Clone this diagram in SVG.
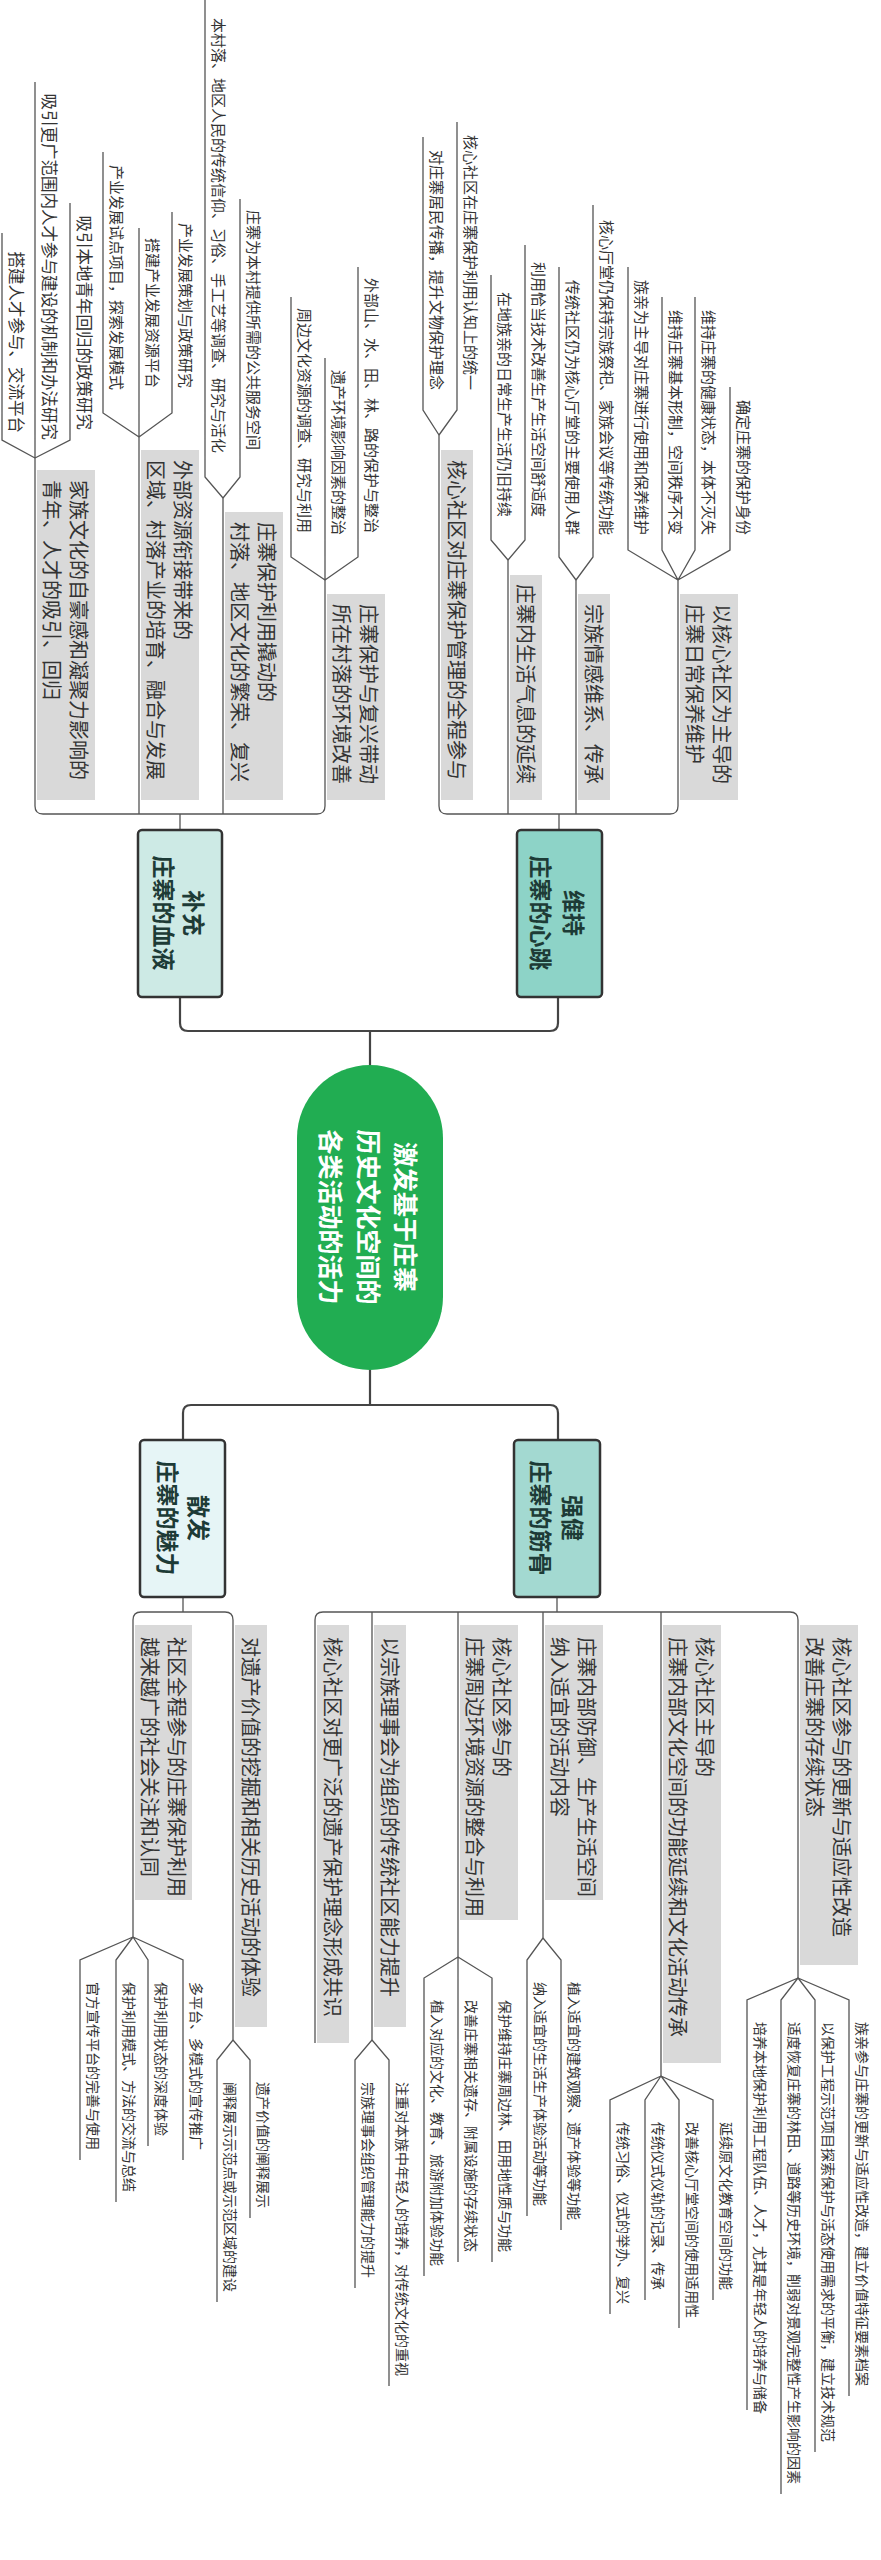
<svg xmlns="http://www.w3.org/2000/svg" width="881" height="2560" viewBox="0 0 881 2560">
<style>
text{font-family:"Noto Sans CJK SC","Noto Sans",sans-serif;fill:#333}
.lf{font-size:15px}
.lfa{font-size:16.5px}
.lf2{font-size:14px}
.l2{font-size:20px}
.box{fill:#d9d9d9}
.ln{fill:none;stroke:#555;stroke-width:1.3}
.main{fill:none;stroke:#444;stroke-width:2.2}
.nd{stroke:#333;stroke-width:2.5}
.nt{font-size:23px;font-weight:bold;fill:#1d3b36}
.rt{font-size:25px;font-weight:bold;fill:#fff}
</style>
<rect width="881" height="2560" fill="#fff"/>
<g id="connectors">
<path class="main" d="M180 997 V1023 Q180 1031 188 1031 H550 Q558 1031 558 1023 V997 M370 1031 V1065 M370 1370 V1405 M183 1440 V1413 Q183 1405 191 1405 H550 Q558 1405 558 1413 V1440"/>
<path class="ln" d="M180 814 V830 M35 458 V806 Q35 814 43 814 H317 Q325 814 325 806 V580 M139 437 V814 M223 498 V814
M559 814 V830 M439 435 V806 Q439 814 447 814 H670 Q678 814 678 806 V580 M508 560 V814 M576 580 V814
M183 1597 V1612 M133 1937 V1620 Q133 1612 141 1612 H225 Q233 1612 233 1620 V2040
M557 1597 V1612 M315 2043 V1620 Q315 1612 323 1612 H790 Q798 1612 798 1620 V1978 M372 1612 V2040 M458 1612 V1957 M543 1612 V1938 M661 1612 V2076"/>
<path class="ln" d="M2 233 V440 L35 458 M35 82 V458 M70 203 V440 L35 458
M103 152 V413 L139 437 M139 228 V437 M172 212 V413 L139 437
M205 0 V477 L223 498 M240 199 V477 L223 498
M291 297 V557 L325 580 M325 358 V580 M358 267 V557 L325 580
M423 137 V410 L439 435 M457 122 V410 L439 435
M491 275 V540 L508 560 M525 245 V540 L508 560
M559 267 V557 L576 580 M593 205 V557 L576 580
M628 267 V550 L678 580 M662 297 V550 L678 580 M695 297 V550 L678 580 M730 387 V550 L678 580"/>
<path class="ln" d="M133 1937 L80 1960 V2160 M133 1937 L116 1960 V2202 M133 1937 L148 1960 V2146 M133 1937 L183 1960 V2160
M233 2040 L217 2060 V2302 M233 2040 L250 2060 V2218
M372 2040 L355 2060 V2288 M372 2040 L389 2060 V2386
M458 1957 L424 1978 V2276 M458 1957 V2262 M458 1957 L492 1978 V2262
M543 1938 L527 1960 V2216 M543 1938 L561 1960 V2230
M661 2076 L610 2100 V2314 M661 2076 L645 2100 V2300 M661 2076 L679 2100 V2328 M661 2076 L713 2100 V2300
M798 1978 L747 2000 V2410 M798 1978 L781 2000 V2494 M798 1978 L815 2000 V2452 M798 1978 L849 2000 V2396"/>
</g>
<g id="root">
<rect x="297" y="1065" width="146" height="305" rx="73" fill="#21ad52"/>
<text class="rt" text-anchor="middle" transform="translate(396,1217) rotate(90)">激发基于庄寨</text>
<text class="rt" text-anchor="middle" transform="translate(359,1217) rotate(90)">历史文化空间的</text>
<text class="rt" text-anchor="middle" transform="translate(321,1217) rotate(90)">各类活动的活力</text>
</g>
<g id="n-buchong">
<rect class="nd" x="138" y="830" width="84" height="167" rx="4" fill="#cdeae5"/>
<text class="nt" text-anchor="middle" transform="translate(185,913) rotate(90)">补充</text>
<text class="nt" text-anchor="middle" transform="translate(155,913) rotate(90)">庄寨的血液</text>
</g>
<g id="n-weichi">
<rect class="nd" x="517" y="830" width="85" height="167" rx="4" fill="#8dd3c7"/>
<text class="nt" text-anchor="middle" transform="translate(565,913) rotate(90)">维持</text>
<text class="nt" text-anchor="middle" transform="translate(532,913) rotate(90)">庄寨的心跳</text>
</g>
<g id="n-sanfa">
<rect class="nd" x="140" y="1440" width="85" height="157" rx="4" fill="#e6f5f6"/>
<text class="nt" text-anchor="middle" transform="translate(190,1518) rotate(90)">散发</text>
<text class="nt" text-anchor="middle" transform="translate(159,1518) rotate(90)">庄寨的魅力</text>
</g>
<g id="n-qiangjian">
<rect class="nd" x="514" y="1440" width="86" height="157" rx="4" fill="#a3d9d1"/>
<text class="nt" text-anchor="middle" transform="translate(564,1518) rotate(90)">强健</text>
<text class="nt" text-anchor="middle" transform="translate(532,1518) rotate(90)">庄寨的筋骨</text>
</g>
<g id="level2-upper">
<rect class="box" x="37" y="470" width="58" height="330"/>
<text class="l2" transform="translate(71,480) rotate(90)">家族文化的自豪感和凝聚力影响的</text>
<text class="l2" transform="translate(44,480) rotate(90)">青年、人才的吸引、回归</text>
<rect class="box" x="141" y="450" width="58" height="350"/>
<text class="l2" transform="translate(175,460) rotate(90)">外部资源衔接带来的</text>
<text class="l2" transform="translate(148,460) rotate(90)">区域、村落产业的培育、融合与发展</text>
<rect class="box" x="225" y="512" width="58" height="288"/>
<text class="l2" transform="translate(259,522) rotate(90)">庄寨保护利用撬动的</text>
<text class="l2" transform="translate(232,522) rotate(90)">村落、地区文化的繁荣、复兴</text>
<rect class="box" x="327" y="594" width="58" height="206"/>
<text class="l2" transform="translate(361,604) rotate(90)">庄寨保护与复兴带动</text>
<text class="l2" transform="translate(334,604) rotate(90)">所在村落的环境改善</text>
<rect class="box" x="441" y="450" width="32" height="350"/>
<text class="l2" transform="translate(449,460) rotate(90)">核心社区对庄寨保护管理的全程参与</text>
<rect class="box" x="510" y="575" width="32" height="225"/>
<text class="l2" transform="translate(518,584) rotate(90)">庄寨内生活气息的延续</text>
<rect class="box" x="578" y="594" width="32" height="206"/>
<text class="l2" transform="translate(586,604) rotate(90)">宗族情感维系、传承</text>
<rect class="box" x="680" y="594" width="58" height="206"/>
<text class="l2" transform="translate(714,604) rotate(90)">以核心社区为主导的</text>
<text class="l2" transform="translate(687,604) rotate(90)">庄寨日常保养维护</text>
</g>
<g id="level2-lower">
<rect class="box" x="135" y="1625" width="57" height="275"/>
<text class="l2" transform="translate(169,1637) rotate(90)">社区全程参与的庄寨保护利用</text>
<text class="l2" transform="translate(142,1637) rotate(90)">越来越广的社会关注和认同</text>
<rect class="box" x="235" y="1625" width="32" height="402"/>
<text class="l2" transform="translate(243,1637) rotate(90)">对遗产价值的挖掘和相关历史活动的体验</text>
<rect class="box" x="317" y="1625" width="32" height="418"/>
<text class="l2" transform="translate(325,1637) rotate(90)">核心社区对更广泛的遗产保护理念形成共识</text>
<rect class="box" x="374" y="1625" width="32" height="402"/>
<text class="l2" transform="translate(382,1637) rotate(90)">以宗族理事会为组织的传统社区能力提升</text>
<rect class="box" x="460" y="1625" width="58" height="295"/>
<text class="l2" transform="translate(494,1637) rotate(90)">核心社区参与的</text>
<text class="l2" transform="translate(467,1637) rotate(90)">庄寨周边环境资源的整合与利用</text>
<rect class="box" x="545" y="1625" width="58" height="275"/>
<text class="l2" transform="translate(579,1637) rotate(90)">庄寨内部防御、生产生活空间</text>
<text class="l2" transform="translate(552,1637) rotate(90)">纳入适宜的活动内容</text>
<rect class="box" x="663" y="1625" width="58" height="438"/>
<text class="l2" transform="translate(697,1637) rotate(90)">核心社区主导的</text>
<text class="l2" transform="translate(670,1637) rotate(90)">庄寨内部文化空间的功能延续和文化活动传承</text>
<rect class="box" x="800" y="1625" width="58" height="340"/>
<text class="l2" transform="translate(834,1637) rotate(90)">核心社区参与的更新与适应性改造</text>
<text class="l2" transform="translate(807,1637) rotate(90)">改善庄寨的存续状态</text>
</g>
<g id="leaves-upper" text-anchor="end">
<text class="lfa" transform="translate(10,433) rotate(90)">搭建人才参与、交流平台</text>
<text class="lfa" transform="translate(43,440) rotate(90)">吸引更广范围内人才参与建设的机制和办法研究</text>
<text class="lfa" transform="translate(78,430) rotate(90)">吸引本地青年回归的政策研究</text>
<text class="lf" transform="translate(111,390) rotate(90)">产业发展试点项目，探索发展模式</text>
<text class="lf" transform="translate(147,388) rotate(90)">搭建产业发展资源平台</text>
<text class="lf" transform="translate(180,388) rotate(90)">产业发展策划与政策研究</text>
<text class="lf" transform="translate(213,453) rotate(90)">本村落、地区人民的传统信仰、习俗、手工艺等调查、研究与活化</text>
<text class="lf" transform="translate(248,450) rotate(90)">庄寨为本村提供所需的公共服务空间</text>
<text class="lf" transform="translate(299,533) rotate(90)">周边文化资源的调查、研究与利用</text>
<text class="lf" transform="translate(333,535) rotate(90)">遗产环境影响因素的整治</text>
<text class="lf" transform="translate(366,533) rotate(90)">外部山、水、田、林、路的保护与整治</text>
<text class="lf" transform="translate(431,390) rotate(90)">对庄寨居民传播，提升文物保护理念</text>
<text class="lf" transform="translate(465,390) rotate(90)">核心社区在庄寨保护利用认知上的统一</text>
<text class="lf" transform="translate(499,517) rotate(90)">在地族亲的日常生产生活仍旧持续</text>
<text class="lf" transform="translate(533,517) rotate(90)">利用恰当技术改善生产生活空间舒适度</text>
<text class="lf" transform="translate(567,535) rotate(90)">传统社区仍为核心厅堂的主要使用人群</text>
<text class="lf" transform="translate(601,535) rotate(90)">核心厅堂仍保持宗族祭祀、家族会议等传统功能</text>
<text class="lf" transform="translate(636,535) rotate(90)">族亲为主导对庄寨进行使用和保养维护</text>
<text class="lf" transform="translate(670,535) rotate(90)">维持庄寨基本形制，空间秩序不变</text>
<text class="lf" transform="translate(703,535) rotate(90)">维持庄寨的健康状态，本体不灭失</text>
<text class="lf" transform="translate(738,535) rotate(90)">确定庄寨的保护身份</text>
</g>
<g id="leaves-lower">
<text class="lf2" transform="translate(88,1982) rotate(90)">官方宣传平台的完善与使用</text>
<text class="lf2" transform="translate(124,1982) rotate(90)">保护利用模式、方法的交流与总结</text>
<text class="lf2" transform="translate(156,1982) rotate(90)">保护利用状态的深度体验</text>
<text class="lf2" transform="translate(191,1982) rotate(90)">多平台、多模式的宣传推广</text>
<text class="lf2" transform="translate(225,2082) rotate(90)">阐释展示示范点或示范区域的建设</text>
<text class="lf2" transform="translate(258,2082) rotate(90)">遗产价值的阐释展示</text>
<text class="lf2" transform="translate(363,2082) rotate(90)">宗族理事会组织管理能力的提升</text>
<text class="lf2" transform="translate(397,2082) rotate(90)">注重对本族中年轻人的培养，对传统文化的重视</text>
<text class="lf2" transform="translate(432,2000) rotate(90)">植入对应的文化、教育、旅游附加体验功能</text>
<text class="lf2" transform="translate(466,2000) rotate(90)">改善庄寨相关遗存、附属设施的存续状态</text>
<text class="lf2" transform="translate(500,2000) rotate(90)">保护维持庄寨周边林、田用地性质与功能</text>
<text class="lf2" transform="translate(535,1982) rotate(90)">纳入适宜的生活生产体验活动等功能</text>
<text class="lf2" transform="translate(569,1982) rotate(90)">植入适宜的建筑观察、遗产体验等功能</text>
<text class="lf2" transform="translate(618,2122) rotate(90)">传统习俗、仪式的举办、复兴</text>
<text class="lf2" transform="translate(653,2122) rotate(90)">传统仪式仪轨的记录、传承</text>
<text class="lf2" transform="translate(687,2122) rotate(90)">改善核心厅堂空间的使用适用性</text>
<text class="lf2" transform="translate(721,2122) rotate(90)">延续原文化教育空间的功能</text>
<text class="lf2" transform="translate(755,2022) rotate(90)">培养本地保护利用工程队伍、人才，尤其是年轻人的培养与储备</text>
<text class="lf2" transform="translate(789,2022) rotate(90)">适度恢复庄寨的林田、道路等历史环境，削弱对景观完整性产生影响的因素</text>
<text class="lf2" transform="translate(823,2022) rotate(90)">以保护工程示范项目探索保护与活态使用需求的平衡，建立技术规范</text>
<text class="lf2" transform="translate(857,2022) rotate(90)">族亲参与庄寨的更新与适应性改造，建立价值特征要素档案</text>
</g>
</svg>
